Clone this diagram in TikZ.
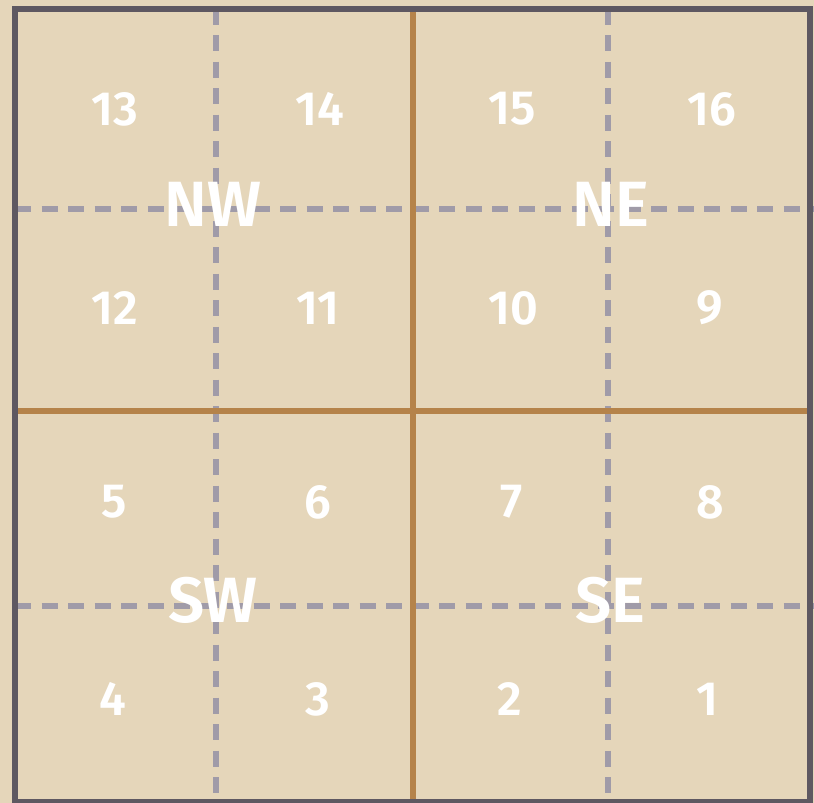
\documentclass[tikz,border=0pt]{standalone}
\usepackage{fontspec}
\setmainfont{Fira Sans}[BoldFont={Fira Sans SemiBold}]
\definecolor{bg}{HTML}{E5D6BA}
\definecolor{frame}{HTML}{5E5861}
\definecolor{quad}{HTML}{B5834A}
\definecolor{grid}{HTML}{A09BA8}
\begin{document}
\begin{tikzpicture}[x=1pt,y=-1pt,
  gridline/.style={draw=grid,line width=6pt,dash pattern=on 16pt off 10.5pt},
  quadline/.style={draw=quad,line width=6pt},
  framebox/.style={draw=frame,line width=6pt},
  num/.style={text=white,font=\fontsize{48}{48}\selectfont\bfseries,inner sep=0pt,anchor=center},
  quadlbl/.style={text=white,font=\fontsize{64}{64}\selectfont\bfseries,inner sep=0pt,anchor=center}]
\fill[bg] (0,0) rectangle (814,803);
\useasboundingbox (0,0) rectangle (814,803);
% frame corners
\coordinate (tl) at (15,8.5);
\coordinate (br) at (809.5,801.5);
% dashed grid
\draw[gridline] (216,8.5) -- (216,803);
\draw[gridline] (607.5,8.5) -- (607.5,803);
\draw[gridline] (15,208.5) -- (814,208.5);
\draw[gridline] (15,606) -- (814,606);
% quadrant lines
\draw[quadline] (412.5,8.5) -- (412.5,801.5);
\draw[quadline] (15,410.5) -- (809.5,410.5);
% frame
\draw[framebox] (tl) rectangle (br);
% numbers
\node[num] (n13) at (114.5,109) {13};
\node[num] (n14) at (320,109) {14};
\node[num] (n15) at (512,109) {15};
\node[num] (n16) at (712,109) {16};
\node[num] (n12) at (114.5,308) {12};
\node[num] (n11) at (318,308) {11};
\node[num] (n10) at (513.5,308) {10};
\node[num] (n9) at (710,308) {9};
\node[num] (n5) at (114,502) {5};
\node[num] (n6) at (318,502) {6};
\node[num] (n7) at (512,502) {7};
\node[num] (n8) at (710,502) {8};
\node[num] (n4) at (113,699) {4};
\node[num] (n3) at (318,699) {3};
\node[num] (n2) at (510,699) {2};
\node[num] (n1) at (707.5,699) {1};
% quadrant labels
\node[quadlbl] (nw) at (213,204) {NW};
\node[quadlbl] (ne) at (611,204) {NE};
\node[quadlbl] (sw) at (213,600) {SW};
\node[quadlbl] (se) at (610,600) {SE};
\end{tikzpicture}
\end{document}
